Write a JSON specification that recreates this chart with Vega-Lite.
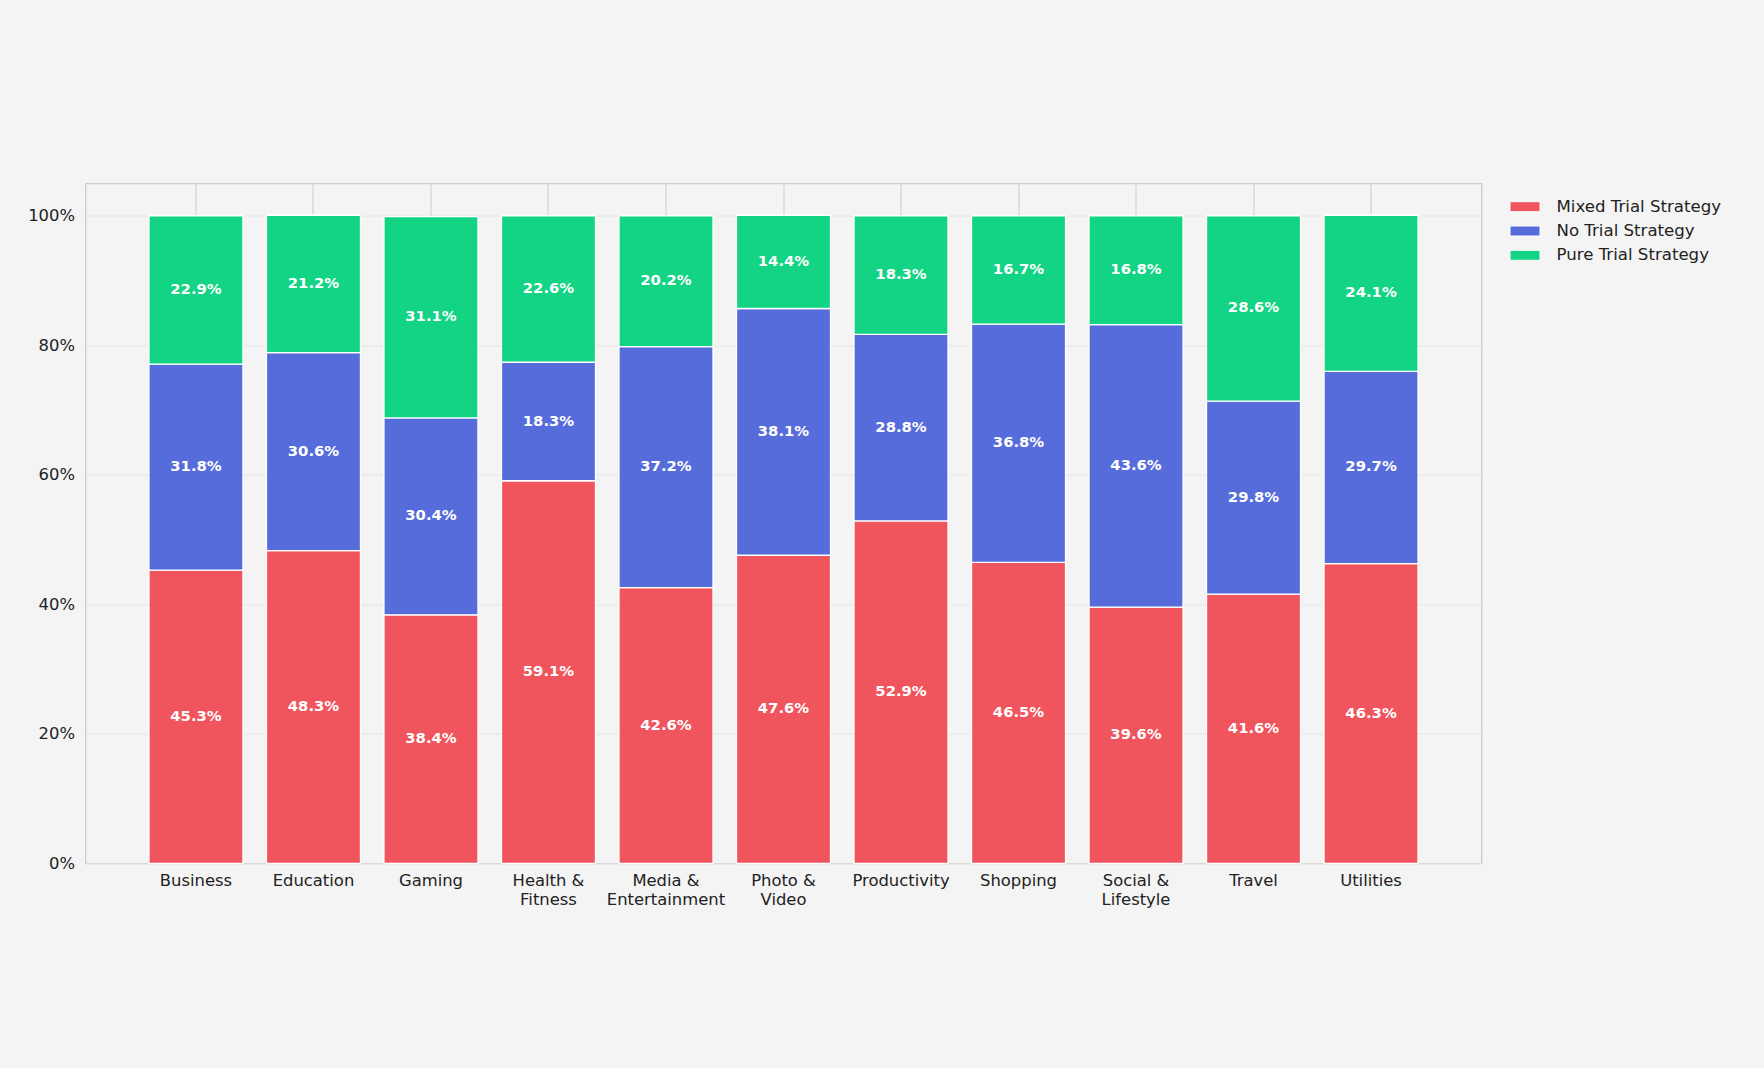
{
  "$schema": "https://vega.github.io/schema/vega-lite/v6.json",
  "width": 1396,
  "height": 680,
  "autosize": {"type": "none"},
  "padding": {"left": 85.5, "top": 183.5, "right": 282.5, "bottom": 204.5},
  "background": "#f4f4f4",
  "data": {
    "values": [
      {"category": "Business", "strategy": "Mixed Trial Strategy", "ord": 1, "value": 45.3},
      {"category": "Business", "strategy": "No Trial Strategy", "ord": 2, "value": 31.8},
      {"category": "Business", "strategy": "Pure Trial Strategy", "ord": 3, "value": 22.9},
      {"category": "Education", "strategy": "Mixed Trial Strategy", "ord": 1, "value": 48.3},
      {"category": "Education", "strategy": "No Trial Strategy", "ord": 2, "value": 30.6},
      {"category": "Education", "strategy": "Pure Trial Strategy", "ord": 3, "value": 21.2},
      {"category": "Gaming", "strategy": "Mixed Trial Strategy", "ord": 1, "value": 38.4},
      {"category": "Gaming", "strategy": "No Trial Strategy", "ord": 2, "value": 30.4},
      {"category": "Gaming", "strategy": "Pure Trial Strategy", "ord": 3, "value": 31.1},
      {"category": "Health & Fitness", "strategy": "Mixed Trial Strategy", "ord": 1, "value": 59.1},
      {"category": "Health & Fitness", "strategy": "No Trial Strategy", "ord": 2, "value": 18.3},
      {"category": "Health & Fitness", "strategy": "Pure Trial Strategy", "ord": 3, "value": 22.6},
      {"category": "Media & Entertainment", "strategy": "Mixed Trial Strategy", "ord": 1, "value": 42.6},
      {"category": "Media & Entertainment", "strategy": "No Trial Strategy", "ord": 2, "value": 37.2},
      {"category": "Media & Entertainment", "strategy": "Pure Trial Strategy", "ord": 3, "value": 20.2},
      {"category": "Photo & Video", "strategy": "Mixed Trial Strategy", "ord": 1, "value": 47.6},
      {"category": "Photo & Video", "strategy": "No Trial Strategy", "ord": 2, "value": 38.1},
      {"category": "Photo & Video", "strategy": "Pure Trial Strategy", "ord": 3, "value": 14.4},
      {"category": "Productivity", "strategy": "Mixed Trial Strategy", "ord": 1, "value": 52.9},
      {"category": "Productivity", "strategy": "No Trial Strategy", "ord": 2, "value": 28.8},
      {"category": "Productivity", "strategy": "Pure Trial Strategy", "ord": 3, "value": 18.3},
      {"category": "Shopping", "strategy": "Mixed Trial Strategy", "ord": 1, "value": 46.5},
      {"category": "Shopping", "strategy": "No Trial Strategy", "ord": 2, "value": 36.8},
      {"category": "Shopping", "strategy": "Pure Trial Strategy", "ord": 3, "value": 16.7},
      {"category": "Social & Lifestyle", "strategy": "Mixed Trial Strategy", "ord": 1, "value": 39.6},
      {"category": "Social & Lifestyle", "strategy": "No Trial Strategy", "ord": 2, "value": 43.6},
      {"category": "Social & Lifestyle", "strategy": "Pure Trial Strategy", "ord": 3, "value": 16.8},
      {"category": "Travel", "strategy": "Mixed Trial Strategy", "ord": 1, "value": 41.6},
      {"category": "Travel", "strategy": "No Trial Strategy", "ord": 2, "value": 29.8},
      {"category": "Travel", "strategy": "Pure Trial Strategy", "ord": 3, "value": 28.6},
      {"category": "Utilities", "strategy": "Mixed Trial Strategy", "ord": 1, "value": 46.3},
      {"category": "Utilities", "strategy": "No Trial Strategy", "ord": 2, "value": 29.7},
      {"category": "Utilities", "strategy": "Pure Trial Strategy", "ord": 3, "value": 24.1}
    ]
  },
  "transform": [
    {"stack": "value", "groupby": ["category"], "sort": [{"field": "ord", "order": "ascending"}], "as": ["y0", "y1"]},
    {"calculate": "(datum.y0 + datum.y1) / 2", "as": "mid"},
    {"calculate": "format(datum.value, '.1f') + '%'", "as": "label"}
  ],
  "encoding": {
    "x": {
      "field": "category",
      "type": "nominal",
      "title": null,
      "scale": {"paddingInner": 0.2, "paddingOuter": 0.54},
      "axis": {
        "grid": true,
        "gridColor": "#d4d4d4",
        "gridWidth": 1.3,
        "domain": false,
        "ticks": false,
        "labelAngle": 0,
        "labelPadding": 9,
        "labelFontSize": 16.4,
        "labelLineHeight": 19.3,
        "labelExpr": "indexof(datum.label, '& ') > 0 ? split(replace(datum.label, '& ', '&|'), '|') : datum.label"
      }
    }
  },
  "layer": [
    {
      "mark": {"type": "bar", "stroke": "white", "strokeWidth": 1.3},
      "encoding": {
        "y": {
          "field": "y0",
          "type": "quantitative",
          "title": null,
          "scale": {"domain": [0, 105], "nice": false},
          "axis": {
            "values": [0, 20, 40, 60, 80, 100],
            "labelExpr": "datum.value + '%'",
            "grid": true,
            "gridColor": "#e4e4e4",
            "gridWidth": 1,
            "domain": false,
            "ticks": false,
            "labelPadding": 11,
            "labelFontSize": 16.4
          }
        },
        "y2": {"field": "y1"},
        "color": {
          "field": "strategy",
          "type": "nominal",
          "scale": {
            "domain": ["Mixed Trial Strategy", "No Trial Strategy", "Pure Trial Strategy"],
            "range": ["#f0545c", "#566cdb", "#13d384"]
          },
          "legend": {
            "title": null,
            "orient": "none",
            "legendX": 1429,
            "legendY": 12.7,
            "padding": 0,
            "symbolType": "M-1.5,-0.5H1.5V0.5H-1.5Z",
            "symbolSize": 400,
            "symbolStrokeColor": "white",
            "symbolStrokeWidth": 1,
            "symbolOpacity": 1,
            "labelOffset": 21,
            "labelLimit": 400,
            "rowPadding": 4.3,
            "labelFontSize": 16.6,
            "labelColor": "#222222"
          }
        }
      }
    },
    {
      "mark": {"type": "text", "color": "white", "fontWeight": "bold", "fontSize": 14.8, "baseline": "middle", "align": "center"},
      "encoding": {
        "y": {"field": "mid", "type": "quantitative"},
        "text": {"field": "label", "type": "nominal"}
      }
    }
  ],
  "config": {
    "font": "DejaVu Sans",
    "view": {"stroke": "#cccccc", "strokeWidth": 1.3, "fill": "#f4f4f4"},
    "axis": {"labelColor": "#222222", "labelFont": "DejaVu Sans"},
    "legend": {"labelFont": "DejaVu Sans"}
  }
}
